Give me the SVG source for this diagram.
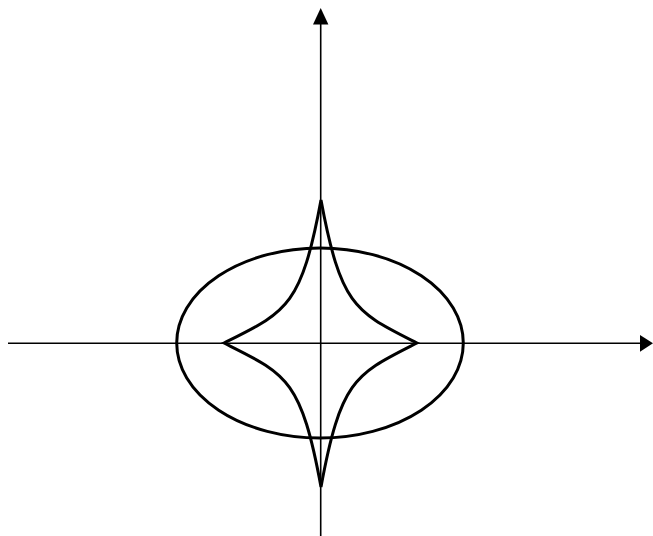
<svg xmlns="http://www.w3.org/2000/svg" width="653" height="536" viewBox="0 0 653 536">
<style>
.axis{stroke:#000;stroke-width:1.6;fill:none}
.head{fill:#000;stroke:none}
.curve{stroke:#000;stroke-width:3;fill:none;stroke-linejoin:miter}
</style>
<rect width="653" height="536" fill="#fff"/>
<g id="connectors">
<line class="axis" x1="8" y1="343.3" x2="642" y2="343.3"/>
<polygon class="head" points="653,343.3 640,335 640,351.7"/>
<line class="axis" x1="320.7" y1="536" x2="320.7" y2="20"/>
<polygon class="head" points="320.7,8 313,24.5 328.4,24.5"/>
</g>
<g id="ellipse">
<ellipse class="curve" cx="320" cy="343" rx="143.3" ry="95"/>
</g>
<g id="astroid">
<path class="curve" d="M224,343 C286,312 301,308 321,200 C341,308 356,312 417,343 C356,374 341,378 321,487 C301,378 286,374 224,343 Z"/>
</g>
</svg>
